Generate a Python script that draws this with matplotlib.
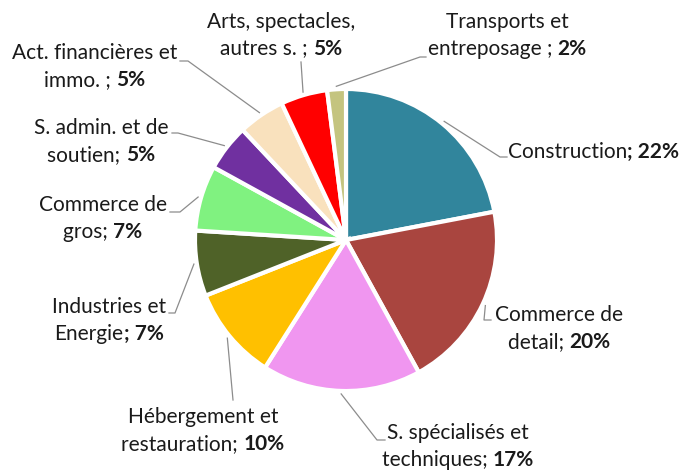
import numpy as np
import matplotlib.pyplot as plt

# data
sectors = ['Construction', 'Commerce de detail', 'S. spécialisés et techniques',
           'Hébergement et restauration', 'Industries et Energie', 'Commerce de gros',
           'S. admin. et de soutien', 'Act. financières et immo.',
           'Arts, spectacles, autres s.', 'Transports et entreposage']
shares = [22, 20, 17, 10, 7, 7, 5, 5, 5, 2]
colors = ['#31859C', '#A9453F', '#F096F0', '#FFC000', '#4F6228',
          '#80F280', '#7030A0', '#F9E1BD', '#FF0000', '#C4C47F']

# label text: first line, second line normal part, bold part
label_line1 = ['Construction', 'Commerce de', 'S. spécialisés et', 'Hébergement et',
               'Industries et', 'Commerce de', 'S. admin. et de', 'Act. financières et',
               'Arts, spectacles,', 'Transports et']
label_line2 = ['', 'detail; ', 'techniques; ', 'restauration; ', 'Energie',
               'gros; ', 'soutien; ', 'immo. ; ', 'autres s. ; ', 'entreposage ; ']
label_bold = ['; 22%', '20%', '17%', '10%', '; 7%', '7%', '5%', '5%', '5%', '2%']

W, H = 684, 471
plt.rcParams['font.family'] = ['Lato', 'DejaVu Sans']
FS = 15
TXT = '#1a1a1a'

fig = plt.figure(figsize=(W / 100, H / 100), dpi=100)
ax = fig.add_axes([0, 0, 1, 1])


def Y(y):
    return H - y


cx, cy, r = 346, Y(240), 151
ax.pie(shares, colors=colors, startangle=90, counterclock=False,
       center=(cx, cy), radius=r, explode=[0.02] * len(shares),
       wedgeprops=dict(edgecolor='white', linewidth=3), frame=True)
ax.set_xlim(0, W)
ax.set_ylim(0, H)
ax.axis('off')

# layout of the labels (pixels from top-left): text centre x, first line y, leader path
layout = [
    dict(x=508, y=152, ha='left', path=[(500, 157), (507, 157)]),
    dict(x=559, y=315, path=[(484, 320), (491, 320)]),
    dict(x=458, y=433, path=[(377, 440), (385, 440)]),
    dict(x=203, y=417, path=[(233, 400)]),
    dict(x=109, y=307, path=[(175, 313), (169, 313)]),
    dict(x=103, y=205, path=[(180, 212), (170, 212)]),
    dict(x=101, y=128, path=[(178, 133), (172, 133)]),
    dict(x=95, y=53, path=[(188, 61), (180, 61)]),
    dict(x=281, y=22, path=[(301, 62)]),
    dict(x=507, y=22, path=[(420, 57), (426, 57)]),
]

renderer = fig.canvas.get_renderer()
LS = 27
cum = np.cumsum([0] + shares[:-1])
for i, lay in enumerate(layout):
    # leader line from the middle of the slice rim
    ang = np.deg2rad(90 - (cum[i] + shares[i] / 2) / sum(shares) * 360)
    rx = cx + (r + 3) * np.cos(ang)
    ry = cy + (r + 3) * np.sin(ang)
    xs = [rx] + [p[0] for p in lay['path']]
    ys = [ry] + [Y(p[1]) for p in lay['path']]
    ax.plot(xs, ys, color='#8C8C8C', lw=0.9)

    if label_line2[i] == '':
        a = ax.text(lay['x'], Y(lay['y']), label_line1[i], fontsize=FS,
                    ha='left', va='center', color=TXT)
        wa = a.get_window_extent(renderer).width
        ax.text(lay['x'] + wa, Y(lay['y']), label_bold[i], fontsize=FS,
                fontweight='bold', ha='left', va='center', color=TXT)
        continue

    ax.text(lay['x'], Y(lay['y']), label_line1[i], fontsize=FS,
            ha='center', va='center', color=TXT)
    a = ax.text(0, Y(lay['y'] + LS), label_line2[i], fontsize=FS,
                ha='left', va='center', color=TXT)
    b = ax.text(0, Y(lay['y'] + LS), label_bold[i], fontsize=FS,
                fontweight='bold', ha='left', va='center', color=TXT)
    wa = a.get_window_extent(renderer).width
    wb = b.get_window_extent(renderer).width
    x0 = lay['x'] - (wa + wb) / 2
    a.set_x(x0)
    b.set_x(x0 + wa)

fig.savefig('out.png', dpi=100)
